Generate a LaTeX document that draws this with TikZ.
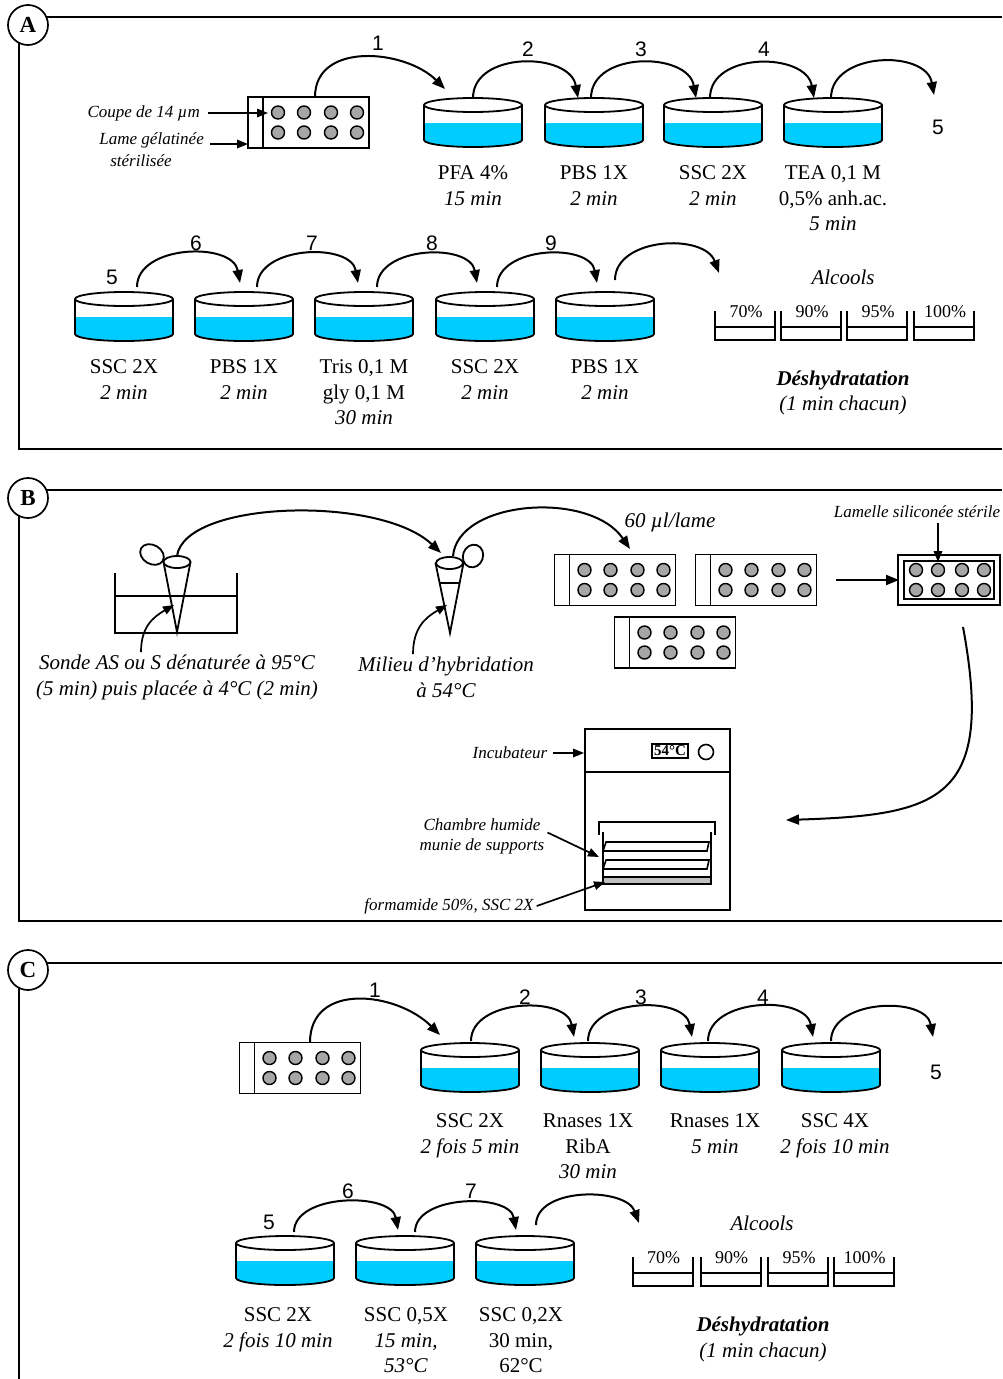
\documentclass[tikz,border=0pt]{standalone}
\usepackage{fontspec}
\setmainfont{Liberation Serif}
\newfontfamily\stepfont{Liberation Sans}
\usetikzlibrary{arrows.meta}
\definecolor{bain}{RGB}{0,204,255}
\definecolor{spot}{RGB}{166,166,166}
\definecolor{tray}{RGB}{192,192,192}

\begin{document}
\begin{tikzpicture}[
		x=1pt, y=1pt,
		frame/.style={line width=2.2pt},
		tag/.style={
			draw,
			circle,
			fill=white,
			line width=1.7pt,
			minimum size=40pt,
			inner sep=0pt,
			font=\fontsize{23}{25}\selectfont\bfseries
		},
		num/.style={font=\stepfont\fontsize{21}{23}\selectfont, inner sep=0pt},
		lbl/.style={font=\fontsize{21}{25.5}\selectfont, align=center, anchor=north, inner sep=0pt},
		note/.style={font=\fontsize{17}{20}\selectfont\itshape, inner sep=0pt},
		small/.style={font=\fontsize{17}{20}\selectfont\itshape, inner sep=0pt, align=center},
		big/.style={font=\fontsize{21}{25.5}\selectfont\itshape, align=center, inner sep=0pt},
		flow/.style={line width=2pt, -{Triangle[length=13pt,width=10pt]}},
		ptr/.style={line width=1.7pt, -{Triangle[length=11pt,width=8.5pt]}},
		dish/.pic={
			\fill[bain] (-49,-18) -- (49,-18) -- (49,-35)
				arc[start angle=0, end angle=-180, x radius=49, y radius=7] -- cycle;
			\draw[line width=1.8pt] (0,0) ellipse [x radius=49, y radius=7];
			\draw[line width=1.8pt] (-49,0) -- (-49,-35)
				arc[start angle=180, end angle=360, x radius=49, y radius=7] -- (49,0);
			\coordinate (-top) at (0,7);
		},
		slide/.pic={
			\draw[line width=1.9pt, fill=white] (-60.5,-25.5) rectangle (60.5,25.5);
			\draw[line width=1.9pt] (-45.5,-25.5) -- (-45.5,25.5);
			\foreach \cx in {-30.5,-4.5,22.5,48.5}
				\foreach \cy in {-10,10}
					\draw[line width=1.4pt, fill=spot] (\cx,\cy) circle [radius=6.5];
			\coordinate (-top) at (6.5,25.5);
			\coordinate (-east) at (60.5,0);
		},
		beaker/.pic={
			\draw[line width=2pt] (-30,0) -- (-30,-29) -- (30,-29) -- (30,0);
			\draw[line width=1.8pt] (-30,-16) -- (30,-16);
			\node[font=\fontsize{18}{20}\selectfont, inner sep=0pt] (-pct) at (1,-1) {#1};
		}
		]
		
		\useasboundingbox (0,0) rectangle (1002,-1379);
		
		%%%%%%%%%% A : pre-treatment %%%%%%%%%%
		\draw[frame] (1002,-17) -- (28,-17);
		\draw[frame] (19,-25) -- (19,-449) -- (1002,-449);
		\node[tag] (tagA) at (28,-25) {A};
		
		% Slide with sections
		\pic (sA) at (308.5,-122.5) {slide};
		\node[note, anchor=east] (coupe) at (200,-113) {Coupe de 14 µm};
		\node[note, anchor=east] (lame) at (204,-140) {Lame gélatinée};
		\node[note] (lame2) at (141,-161) {stérilisée};
		\coordinate (sApot) at (268,-113);
		\coordinate (sAedge) at (248,-144);
		\draw[ptr] ([xshift=8pt]coupe.east) -- (sApot);
		\draw[ptr] ([xshift=6pt]lame.east |- sAedge) -- (sAedge);
		
		% Baths, first row
		\pic (a1) at (473,-105) {dish};
		\pic (a2) at (594,-105) {dish};
		\pic (a3) at (713,-105) {dish};
		\pic (a4) at (833,-105) {dish};
		\coordinate (a5) at (934,-95);
		
		\node[lbl] (ta1) at (473,-165.5) {PFA 4\%\\\textit{15 min}};
		\node[lbl] (ta2) at (594,-165.5) {PBS 1X\\\textit{2 min}};
		\node[lbl] (ta3) at (713,-165.5) {SSC 2X\\\textit{2 min}};
		\node[lbl] (ta4) at (833,-165.5) {TEA 0,1 M\\0,5\% anh.ac.\\\textit{5 min}};
		
		\node[num] (na1) at (378,-43) {1};
		\node[num] (na2) at (528,-49) {2};
		\node[num] (na3) at (641,-49) {3};
		\node[num] (na4) at (764,-49) {4};
		\node[num] (na5) at (938,-127) {5};
		
		\draw[flow] (sA-top) to[out=90, in=135, looseness=1.1] ([xshift=-28pt, yshift=9pt]a1-top);
		\draw[flow] (a1-top) to[out=90, in=100, looseness=1.15] ([xshift=-16pt]a2-top);
		\draw[flow] ([xshift=-3pt]a2-top) to[out=90, in=100, looseness=1.15] ([xshift=-17pt]a3-top);
		\draw[flow] ([xshift=-3pt]a3-top) to[out=90, in=100, looseness=1.15] ([xshift=-19pt]a4-top);
		\draw[flow] ([xshift=-2pt]a4-top) to[out=90, in=100, looseness=1.15] (a5);
		
		% Baths, second row
		\pic (b1) at (124,-299) {dish};
		\pic (b2) at (244,-299) {dish};
		\pic (b3) at (364,-299) {dish};
		\pic (b4) at (485,-299) {dish};
		\pic (b5) at (605,-299) {dish};
		\coordinate (b6) at (719,-273);
		
		\node[lbl] (tb1) at (124,-359.5) {SSC 2X\\\textit{2 min}};
		\node[lbl] (tb2) at (244,-359.5) {PBS 1X\\\textit{2 min}};
		\node[lbl] (tb3) at (364,-359.5) {Tris 0,1 M\\gly 0,1 M\\\textit{30 min}};
		\node[lbl] (tb4) at (485,-359.5) {SSC 2X\\\textit{2 min}};
		\node[lbl] (tb5) at (605,-359.5) {PBS 1X\\\textit{2 min}};
		
		\node[num] (nb5) at (112,-277) {5};
		\node[num] (nb6) at (196,-243) {6};
		\node[num] (nb7) at (312,-243) {7};
		\node[num] (nb8) at (432,-243) {8};
		\node[num] (nb9) at (551,-243) {9};
		
		\draw[flow] ([xshift=13pt, yshift=5pt]b1-top) to[out=90, in=100, looseness=1.05] ([xshift=-4pt, yshift=9pt]b2-top);
		\draw[flow] ([xshift=13pt, yshift=5pt]b2-top) to[out=90, in=100, looseness=1.05] ([xshift=-6pt, yshift=9pt]b3-top);
		\draw[flow] ([xshift=13pt, yshift=5pt]b3-top) to[out=90, in=100, looseness=1.05] ([xshift=-8pt, yshift=9pt]b4-top);
		\draw[flow] ([xshift=12pt, yshift=5pt]b4-top) to[out=90, in=100, looseness=1.05] ([xshift=-8pt, yshift=9pt]b5-top);
		\draw[flow] ([xshift=10pt, yshift=12pt]b5-top) to[out=90, in=110, looseness=1.05] (b6);
		
		% Alcohol series
		\node[big] (alcA) at (843,-277) {Alcools};
		\pic (ka1) at (745,-311) {beaker=70\%};
		\pic (ka2) at (811,-311) {beaker=90\%};
		\pic (ka3) at (877,-311) {beaker=95\%};
		\pic (ka4) at (944,-311) {beaker=100\%};
		\node[big] (dehA) at (843,-393) {\textbf{Déshydratation}\\(1 min chacun)};
		
		%%%%%%%%%% B : hybridization %%%%%%%%%%
		\draw[frame] (1002,-490) -- (28,-490);
		\draw[frame] (19,-498) -- (19,-921) -- (1002,-921);
		\node[tag] (tagB) at (28,-498) {B};
		
		% Water bath with probe tube
		\draw[line width=2pt] (115,-573) -- (115,-633) -- (237,-633) -- (237,-573);
		\draw[line width=2pt] (115,-596) -- (237,-596);
		\draw[line width=1.8pt] (163.5,-562) -- (177,-632) -- (190.5,-562);
		\draw[line width=1.8pt, fill=white, rotate around={-30:(152,-554.5)}] (152,-554.5) ellipse [x radius=12.5, y radius=9.5];
		\draw[line width=1.8pt, fill=white] (177,-562) ellipse [x radius=13.5, y radius=6];
		\coordinate (tube1) at (177,-556);
		\coordinate (probe) at (174,-605);
		
		% Tube with hybridization medium
		\draw[line width=1.8pt] (435.5,-563) -- (450,-633) -- (463.5,-563);
		\draw[line width=1.8pt] (440.4,-583) -- (459.6,-583);
		\draw[line width=1.8pt, fill=white, rotate around={70:(473,-556)}] (473,-556) ellipse [x radius=11.5, y radius=10];
		\draw[line width=1.8pt, fill=white] (449.5,-563) ellipse [x radius=13.5, y radius=6];
		\coordinate (tube2in) at (441,-553);
		\coordinate (tube2) at (453,-556);
		\coordinate (medium) at (447,-605);
		
		\node[big] (sonde) at (177,-677.5) {Sonde AS ou S dénaturée à 95°C\\(5 min) puis placée à 4°C (2 min)};
		\node[big] (milieu) at (446,-677.5) {Milieu d’hybridation\\à 54°C};
		\draw[ptr] ([xshift=-36pt, yshift=3pt]sonde.north) to[out=90, in=210, looseness=1.1] (probe);
		\draw[ptr] ([xshift=-33pt, yshift=3pt]milieu.north) to[out=90, in=210, looseness=1.1] (medium);
		
		\draw[flow] (tube1) .. controls (185,-500) and (380,-495) .. (tube2in);
		
		% Slides receiving the probe
		\pic (s1) at (615,-580) {slide};
		\pic (s2) at (756,-580) {slide};
		\pic (s3) at (675,-642.5) {slide};
		\coordinate (drop) at (630,-549);
		\node[big] (dose) at (670,-522) {60 µl/lame};
		\draw[flow] (tube2) .. controls (458,-500) and (590,-490) .. (drop);
		
		% Slide under coverslip
		\draw[line width=1.4pt] (898,-555) rectangle (1000,-605);
		\draw[line width=2.4pt] (904,-561) rectangle (994,-599);
		\foreach \cx in {916,938,962,984}
			\foreach \cy in {-570,-590}
				\draw[line width=1.4pt, fill=spot] (\cx,\cy) circle [radius=6.5];
		\coordinate (cov) at (899,-580);
		\coordinate (covspot) at (938,-562);
		\coordinate (covout) at (963,-627);
		\draw[flow] ([xshift=19pt]s2-east) -- (cov);
		\node[small] (lamelle) at (917,-512) {Lamelle siliconée stérile};
		\draw[ptr] ([xshift=21pt, yshift=-5pt]lamelle.south) -- (covspot);
		
		% Incubator
		\node[draw, line width=1.9pt, minimum width=145pt, minimum height=181pt, inner sep=0pt] (incu) at (657.5,-819.5) {};
		\draw[line width=1.9pt] (585,-772) -- (730,-772);
		\node[draw, line width=1.6pt, inner sep=2pt, font=\fontsize{15}{17}\selectfont\bfseries] (temp) at (670,-751) {54°C};
		\draw[line width=1.6pt] (706,-752) circle [radius=7.5];
		\node[note] (incub) at (510,-753) {Incubateur};
		\draw[ptr] ([xshift=5pt]incub.east) -- (incub.east -| incu.west);
		
		% Humid chamber with its supports
		\draw[line width=1.8pt] (599,-835) -- (599,-822) -- (715,-822) -- (715,-835);
		\draw[line width=1.6pt] (603,-832) -- (603,-877);
		\draw[line width=1.6pt] (711,-832) -- (711,-877);
		\draw[line width=1.6pt] (603,-851) -- (606,-842) -- (709,-842) -- (707,-851) -- cycle;
		\draw[line width=1.6pt] (603,-869) -- (606,-860) -- (709,-860) -- (707,-869) -- cycle;
		\draw[line width=1.6pt, fill=tray] (603,-877) rectangle (711,-884);
		\coordinate (shelf) at (599,-857);
		\coordinate (trayin) at (605,-882);
		\coordinate (incuin) at (786,-820);
		\node[small] (chambre) at (482,-836.5) {Chambre humide\\munie de supports};
		\node[small] (forma) at (449,-906) {formamide 50\%, SSC 2X};
		\draw[ptr] ([xshift=3pt, yshift=4pt]chambre.east) -- (shelf);
		\draw[ptr] ([xshift=3pt]forma.east) -- (trayin);
		
		\draw[flow] (covout) .. controls (995,-800) and (940,-815) .. (incuin);
		
		%%%%%%%%%% C : post-hybridization washes %%%%%%%%%%
		\draw[frame] (1002,-963) -- (28,-963);
		\draw[frame] (19,-970) -- (19,-1379);
		\node[tag] (tagC) at (28,-970) {C};
		
		\pic (sC) at (300,-1068) {slide};
		
		% Washes, first row
		\pic (c1) at (470,-1050) {dish};
		\pic (c2) at (590,-1050) {dish};
		\pic (c3) at (710,-1050) {dish};
		\pic (c4) at (831,-1050) {dish};
		\coordinate (c5) at (933,-1037);
		
		\node[lbl] (tc1) at (470,-1113.5) {SSC 2X\\\textit{2 fois 5 min}};
		\node[lbl] (tc2) at (588,-1113.5) {Rnases 1X\\RibA\\\textit{30 min}};
		\node[lbl] (tc3) at (715,-1113.5) {Rnases 1X\\\textit{5 min}};
		\node[lbl] (tc4) at (835,-1113.5) {SSC 4X\\\textit{2 fois 10 min}};
		
		\node[num] (nc1) at (375,-990) {1};
		\node[num] (nc2) at (525,-997) {2};
		\node[num] (nc3) at (641,-997) {3};
		\node[num] (nc4) at (763,-997) {4};
		\node[num] (nc5) at (936,-1072) {5};
		
		\draw[flow] ([xshift=3.5pt]sC-top) to[out=90, in=135, looseness=1.2] ([xshift=-30pt, yshift=8pt]c1-top);
		\draw[flow] ([xshift=1pt, yshift=2pt]c1-top) to[out=90, in=100, looseness=1.05] ([xshift=-16pt, yshift=6pt]c2-top);
		\draw[flow] ([xshift=-2pt, yshift=2pt]c2-top) to[out=90, in=100, looseness=1.05] ([xshift=-18pt, yshift=6pt]c3-top);
		\draw[flow] ([xshift=-2pt, yshift=2pt]c3-top) to[out=90, in=100, looseness=1.05] ([xshift=-18pt, yshift=6pt]c4-top);
		\draw[flow] ([xshift=0pt, yshift=2pt]c4-top) to[out=90, in=100, looseness=1.05] (c5);
		
		% Washes, second row
		\pic (d1) at (285,-1243) {dish};
		\pic (d2) at (405,-1243) {dish};
		\pic (d3) at (525,-1243) {dish};
		\coordinate (d4) at (639,-1223);
		
		\node[lbl] (td1) at (278,-1307.5) {SSC 2X\\\textit{2 fois 10 min}};
		\node[lbl] (td2) at (406,-1307.5) {SSC 0,5X\\\textit{15 min,}\\\textit{53°C}};
		\node[lbl] (td3) at (521,-1307.5) {SSC 0,2X\\30 min,\\62°C};
		
		\node[num] (nd5) at (269,-1222) {5};
		\node[num] (nd6) at (348,-1191) {6};
		\node[num] (nd7) at (471,-1191) {7};
		
		\draw[flow] ([xshift=9pt, yshift=4pt]d1-top) to[out=90, in=100, looseness=0.95] ([xshift=-7pt, yshift=6pt]d2-top);
		\draw[flow] ([xshift=10pt, yshift=4pt]d2-top) to[out=90, in=100, looseness=0.95] ([xshift=-9pt, yshift=6pt]d3-top);
		\draw[flow] ([xshift=11pt, yshift=11pt]d3-top) to[out=90, in=110, looseness=0.95] (d4);
		
		% Alcohol series
		\node[big] (alcC) at (762,-1223) {Alcools};
		\pic (kc1) at (662.5,-1257) {beaker=70\%};
		\pic (kc2) at (730.5,-1257) {beaker=90\%};
		\pic (kc3) at (798,-1257) {beaker=95\%};
		\pic (kc4) at (863.5,-1257) {beaker=100\%};
		\node[big] (dehC) at (763,-1339.5) {\textbf{Déshydratation}\\(1 min chacun)};
		
	\end{tikzpicture}
\end{document}
